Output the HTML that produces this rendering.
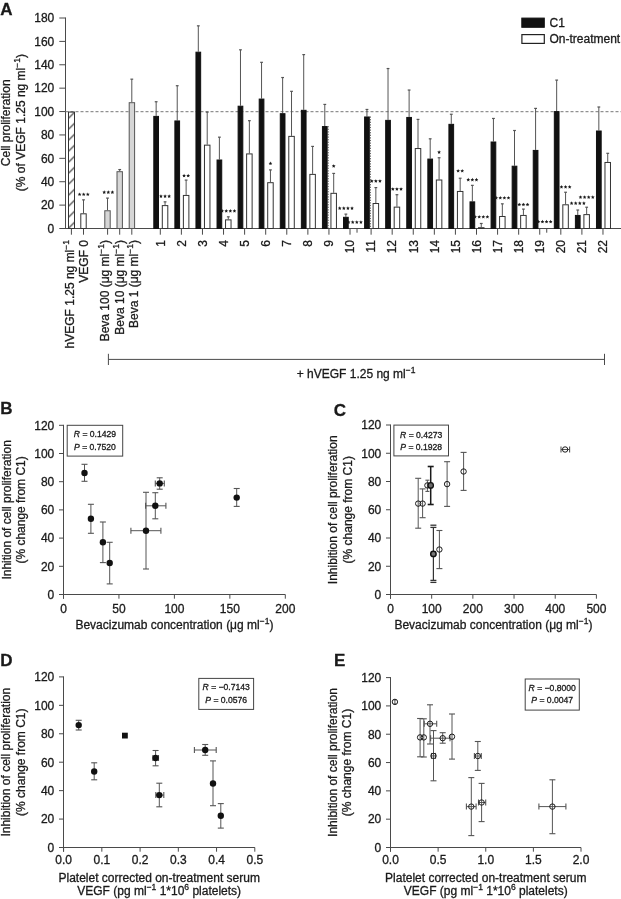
<!DOCTYPE html>
<html><head><meta charset="utf-8"><title>Figure</title>
<style>
html,body{margin:0;padding:0;background:#fff;}
body{width:621px;height:899px;overflow:hidden;}
svg{display:block;will-change:transform;}
text{font-family:"Liberation Sans",sans-serif;fill:#1a1a1a;stroke:#1a1a1a;stroke-width:0.3px;}
</style></head><body>
<svg width="621" height="899" viewBox="0 0 621 899">
<rect width="621" height="899" fill="#fff"/>
<g id="A">
<text x="0.3" y="14.7" font-size="17" text-anchor="start" font-weight="bold">A</text>
<line x1="65.5" y1="17.51" x2="65.5" y2="229" stroke="#4a4a4a" stroke-width="1"/>
<line x1="59.3" y1="228.5" x2="65.5" y2="228.5" stroke="#4a4a4a" stroke-width="1"/>
<text x="54.3" y="232.8" font-size="12" text-anchor="end">0</text>
<line x1="59.3" y1="205.11" x2="65.5" y2="205.11" stroke="#4a4a4a" stroke-width="1"/>
<text x="54.3" y="209.41" font-size="12" text-anchor="end">20</text>
<line x1="59.3" y1="181.72" x2="65.5" y2="181.72" stroke="#4a4a4a" stroke-width="1"/>
<text x="54.3" y="186.02" font-size="12" text-anchor="end">40</text>
<line x1="59.3" y1="158.34" x2="65.5" y2="158.34" stroke="#4a4a4a" stroke-width="1"/>
<text x="54.3" y="162.64" font-size="12" text-anchor="end">60</text>
<line x1="59.3" y1="134.95" x2="65.5" y2="134.95" stroke="#4a4a4a" stroke-width="1"/>
<text x="54.3" y="139.25" font-size="12" text-anchor="end">80</text>
<line x1="59.3" y1="111.56" x2="65.5" y2="111.56" stroke="#4a4a4a" stroke-width="1"/>
<text x="54.3" y="115.86" font-size="12" text-anchor="end">100</text>
<line x1="59.3" y1="88.17" x2="65.5" y2="88.17" stroke="#4a4a4a" stroke-width="1"/>
<text x="54.3" y="92.47" font-size="12" text-anchor="end">120</text>
<line x1="59.3" y1="64.78" x2="65.5" y2="64.78" stroke="#4a4a4a" stroke-width="1"/>
<text x="54.3" y="69.08" font-size="12" text-anchor="end">140</text>
<line x1="59.3" y1="41.4" x2="65.5" y2="41.4" stroke="#4a4a4a" stroke-width="1"/>
<text x="54.3" y="45.7" font-size="12" text-anchor="end">160</text>
<line x1="59.3" y1="18.01" x2="65.5" y2="18.01" stroke="#4a4a4a" stroke-width="1"/>
<text x="54.3" y="22.31" font-size="12" text-anchor="end">180</text>
<line x1="65.5" y1="228.5" x2="621" y2="228.5" stroke="#4a4a4a" stroke-width="1"/>
<line x1="65.5" y1="111.7" x2="621" y2="111.7" stroke="#777" stroke-width="1" stroke-dasharray="3 2"/>
<text x="10.4" y="122.8" font-size="12" text-anchor="middle" transform="rotate(-90 10.4 122.8)">Cell proliferation</text>
<text x="24.8" y="122.6" font-size="12" text-anchor="middle" transform="rotate(-90 24.8 122.6)">(% of VEGF 1.25 ng ml<tspan font-size="8.5" dy="-5">&#8722;1</tspan><tspan dy="5">)</tspan></text>
<defs><pattern id="hatch" patternUnits="userSpaceOnUse" width="7" height="11" x="68.3" y="107.5"><line x1="-1" y1="12" x2="8" y2="3" stroke="#222" stroke-width="1.1"/></pattern></defs>
<rect x="68.5" y="112.06" width="6" height="116.44" fill="url(#hatch)" stroke="#333" stroke-width="1"/>
<line x1="83.5" y1="199.85" x2="83.5" y2="213.3" stroke="#555" stroke-width="1"/>
<line x1="82.1" y1="199.85" x2="84.9" y2="199.85" stroke="#555" stroke-width="1.2"/>
<rect x="80.8" y="213.8" width="5.4" height="14.7" fill="#fff" stroke="#333" stroke-width="1"/>
<polygon points="79.6,192.45 80.16,193.63 81.45,193.8 80.5,194.69 80.75,195.98 79.6,195.35 78.45,195.98 78.7,194.69 77.75,193.8 79.04,193.63" fill="#1a1a1a"/>
<polygon points="83.7,192.45 84.26,193.63 85.55,193.8 84.6,194.69 84.85,195.98 83.7,195.35 82.55,195.98 82.8,194.69 81.85,193.8 83.14,193.63" fill="#1a1a1a"/>
<polygon points="87.8,192.45 88.36,193.63 89.65,193.8 88.7,194.69 88.95,195.98 87.8,195.35 86.65,195.98 86.9,194.69 85.95,193.8 87.24,193.63" fill="#1a1a1a"/>
<line x1="107.5" y1="198.1" x2="107.5" y2="210.26" stroke="#555" stroke-width="1"/>
<line x1="106.1" y1="198.1" x2="108.9" y2="198.1" stroke="#555" stroke-width="1.2"/>
<rect x="104.8" y="210.76" width="5.4" height="17.74" fill="#d6d6d6" stroke="#555" stroke-width="1"/>
<polygon points="104.2,190.35 104.76,191.53 106.05,191.7 105.1,192.59 105.35,193.88 104.2,193.25 103.05,193.88 103.3,192.59 102.35,191.7 103.64,191.53" fill="#1a1a1a"/>
<polygon points="108.3,190.35 108.86,191.53 110.15,191.7 109.2,192.59 109.45,193.88 108.3,193.25 107.15,193.88 107.4,192.59 106.45,191.7 107.74,191.53" fill="#1a1a1a"/>
<polygon points="112.4,190.35 112.96,191.53 114.25,191.7 113.3,192.59 113.55,193.88 112.4,193.25 111.25,193.88 111.5,192.59 110.55,191.7 111.84,191.53" fill="#1a1a1a"/>
<line x1="119.7" y1="169.56" x2="119.7" y2="171.2" stroke="#555" stroke-width="1"/>
<line x1="118.3" y1="169.56" x2="121.1" y2="169.56" stroke="#555" stroke-width="1.2"/>
<rect x="117" y="171.7" width="5.4" height="56.8" fill="#d6d6d6" stroke="#555" stroke-width="1"/>
<line x1="131.8" y1="79.17" x2="131.8" y2="102.2" stroke="#555" stroke-width="1"/>
<line x1="130.4" y1="79.17" x2="133.2" y2="79.17" stroke="#555" stroke-width="1.2"/>
<rect x="129.2" y="102.7" width="5.4" height="125.8" fill="#d6d6d6" stroke="#555" stroke-width="1"/>
<line x1="71.4" y1="228.5" x2="71.4" y2="234.7" stroke="#4a4a4a" stroke-width="1"/>
<line x1="83.5" y1="228.5" x2="83.5" y2="234.7" stroke="#4a4a4a" stroke-width="1"/>
<line x1="107.6" y1="228.5" x2="107.6" y2="234.7" stroke="#4a4a4a" stroke-width="1"/>
<line x1="119.7" y1="228.5" x2="119.7" y2="234.7" stroke="#4a4a4a" stroke-width="1"/>
<line x1="131.8" y1="228.5" x2="131.8" y2="234.7" stroke="#4a4a4a" stroke-width="1"/>
<line x1="156.15" y1="101.74" x2="156.15" y2="115.89" stroke="#555" stroke-width="1"/>
<line x1="154.75" y1="101.74" x2="157.55" y2="101.74" stroke="#555" stroke-width="1.2"/>
<rect x="153.8" y="116.39" width="4.7" height="112.11" fill="#111" stroke="#111" stroke-width="1"/>
<line x1="165.05" y1="201.84" x2="165.05" y2="205.11" stroke="#555" stroke-width="1"/>
<line x1="163.65" y1="201.84" x2="166.45" y2="201.84" stroke="#555" stroke-width="1.2"/>
<rect x="162.3" y="205.61" width="5.5" height="22.89" fill="#fff" stroke="#333" stroke-width="1"/>
<polygon points="160.95,194.35 161.51,195.53 162.8,195.7 161.85,196.59 162.1,197.88 160.95,197.25 159.8,197.88 160.05,196.59 159.1,195.7 160.39,195.53" fill="#1a1a1a"/>
<polygon points="165.05,194.35 165.61,195.53 166.9,195.7 165.95,196.59 166.2,197.88 165.05,197.25 163.9,197.88 164.15,196.59 163.2,195.7 164.49,195.53" fill="#1a1a1a"/>
<polygon points="169.15,194.35 169.71,195.53 171,195.7 170.05,196.59 170.3,197.88 169.15,197.25 168,197.88 168.25,196.59 167.3,195.7 168.59,195.53" fill="#1a1a1a"/>
<line x1="160.3" y1="228.5" x2="160.3" y2="234.7" stroke="#4a4a4a" stroke-width="1"/>
<text x="164.6" y="240" font-size="12" text-anchor="end" transform="rotate(-90 164.6 240)">1</text>
<line x1="177.23" y1="85.72" x2="177.23" y2="120.45" stroke="#555" stroke-width="1"/>
<line x1="175.83" y1="85.72" x2="178.63" y2="85.72" stroke="#555" stroke-width="1.2"/>
<rect x="174.88" y="120.95" width="4.7" height="107.55" fill="#111" stroke="#111" stroke-width="1"/>
<line x1="186.13" y1="180.09" x2="186.13" y2="194.94" stroke="#555" stroke-width="1"/>
<line x1="184.73" y1="180.09" x2="187.53" y2="180.09" stroke="#555" stroke-width="1.2"/>
<rect x="183.38" y="195.44" width="5.5" height="33.06" fill="#fff" stroke="#333" stroke-width="1"/>
<polygon points="184.08,173.75 184.64,174.93 185.93,175.1 184.98,175.99 185.23,177.28 184.08,176.65 182.93,177.28 183.18,175.99 182.23,175.1 183.52,174.93" fill="#1a1a1a"/>
<polygon points="188.18,173.75 188.74,174.93 190.03,175.1 189.08,175.99 189.33,177.28 188.18,176.65 187.03,177.28 187.28,175.99 186.33,175.1 187.62,174.93" fill="#1a1a1a"/>
<line x1="181.38" y1="228.5" x2="181.38" y2="234.7" stroke="#4a4a4a" stroke-width="1"/>
<text x="185.68" y="240" font-size="12" text-anchor="end" transform="rotate(-90 185.68 240)">2</text>
<line x1="198.31" y1="25.84" x2="198.31" y2="51.69" stroke="#555" stroke-width="1"/>
<line x1="196.91" y1="25.84" x2="199.71" y2="25.84" stroke="#555" stroke-width="1.2"/>
<rect x="195.96" y="52.19" width="4.7" height="176.31" fill="#111" stroke="#111" stroke-width="1"/>
<line x1="207.21" y1="112.14" x2="207.21" y2="144.65" stroke="#555" stroke-width="1"/>
<line x1="205.81" y1="112.14" x2="208.61" y2="112.14" stroke="#555" stroke-width="1.2"/>
<rect x="204.46" y="145.15" width="5.5" height="83.35" fill="#fff" stroke="#333" stroke-width="1"/>
<line x1="202.46" y1="228.5" x2="202.46" y2="234.7" stroke="#4a4a4a" stroke-width="1"/>
<text x="206.76" y="240" font-size="12" text-anchor="end" transform="rotate(-90 206.76 240)">3</text>
<line x1="219.39" y1="137.17" x2="219.39" y2="159.51" stroke="#555" stroke-width="1"/>
<line x1="217.99" y1="137.17" x2="220.79" y2="137.17" stroke="#555" stroke-width="1.2"/>
<rect x="217.04" y="160.01" width="4.7" height="68.49" fill="#111" stroke="#111" stroke-width="1"/>
<line x1="228.29" y1="216.81" x2="228.29" y2="219.38" stroke="#555" stroke-width="1"/>
<line x1="226.89" y1="216.81" x2="229.69" y2="216.81" stroke="#555" stroke-width="1.2"/>
<rect x="225.54" y="219.88" width="5.5" height="8.62" fill="#fff" stroke="#333" stroke-width="1"/>
<polygon points="222.14,209.05 222.7,210.23 223.99,210.4 223.04,211.29 223.29,212.58 222.14,211.95 220.99,212.58 221.24,211.29 220.29,210.4 221.58,210.23" fill="#1a1a1a"/>
<polygon points="226.24,209.05 226.8,210.23 228.09,210.4 227.14,211.29 227.39,212.58 226.24,211.95 225.09,212.58 225.34,211.29 224.39,210.4 225.68,210.23" fill="#1a1a1a"/>
<polygon points="230.34,209.05 230.9,210.23 232.19,210.4 231.24,211.29 231.49,212.58 230.34,211.95 229.19,212.58 229.44,211.29 228.49,210.4 229.78,210.23" fill="#1a1a1a"/>
<polygon points="234.44,209.05 235,210.23 236.29,210.4 235.34,211.29 235.59,212.58 234.44,211.95 233.29,212.58 233.54,211.29 232.59,210.4 233.88,210.23" fill="#1a1a1a"/>
<line x1="223.54" y1="228.5" x2="223.54" y2="234.7" stroke="#4a4a4a" stroke-width="1"/>
<text x="227.84" y="240" font-size="12" text-anchor="end" transform="rotate(-90 227.84 240)">4</text>
<line x1="240.47" y1="49.82" x2="240.47" y2="105.71" stroke="#555" stroke-width="1"/>
<line x1="239.07" y1="49.82" x2="241.87" y2="49.82" stroke="#555" stroke-width="1.2"/>
<rect x="238.12" y="106.21" width="4.7" height="122.29" fill="#111" stroke="#111" stroke-width="1"/>
<line x1="249.37" y1="120.68" x2="249.37" y2="153.42" stroke="#555" stroke-width="1"/>
<line x1="247.97" y1="120.68" x2="250.77" y2="120.68" stroke="#555" stroke-width="1.2"/>
<rect x="246.62" y="153.92" width="5.5" height="74.58" fill="#fff" stroke="#333" stroke-width="1"/>
<line x1="244.62" y1="228.5" x2="244.62" y2="234.7" stroke="#4a4a4a" stroke-width="1"/>
<text x="248.92" y="240" font-size="12" text-anchor="end" transform="rotate(-90 248.92 240)">5</text>
<line x1="261.55" y1="62.33" x2="261.55" y2="98.58" stroke="#555" stroke-width="1"/>
<line x1="260.15" y1="62.33" x2="262.95" y2="62.33" stroke="#555" stroke-width="1.2"/>
<rect x="259.2" y="99.08" width="4.7" height="129.42" fill="#111" stroke="#111" stroke-width="1"/>
<line x1="270.45" y1="169.91" x2="270.45" y2="182.19" stroke="#555" stroke-width="1"/>
<line x1="269.05" y1="169.91" x2="271.85" y2="169.91" stroke="#555" stroke-width="1.2"/>
<rect x="267.7" y="182.69" width="5.5" height="45.81" fill="#fff" stroke="#333" stroke-width="1"/>
<polygon points="270.45,161.55 271.01,162.73 272.3,162.9 271.35,163.79 271.6,165.08 270.45,164.45 269.3,165.08 269.55,163.79 268.6,162.9 269.89,162.73" fill="#1a1a1a"/>
<line x1="265.7" y1="228.5" x2="265.7" y2="234.7" stroke="#4a4a4a" stroke-width="1"/>
<text x="270" y="240" font-size="12" text-anchor="end" transform="rotate(-90 270 240)">6</text>
<line x1="282.63" y1="77.53" x2="282.63" y2="113.2" stroke="#555" stroke-width="1"/>
<line x1="281.23" y1="77.53" x2="284.03" y2="77.53" stroke="#555" stroke-width="1.2"/>
<rect x="280.28" y="113.7" width="4.7" height="114.8" fill="#111" stroke="#111" stroke-width="1"/>
<line x1="291.53" y1="91.33" x2="291.53" y2="135.88" stroke="#555" stroke-width="1"/>
<line x1="290.13" y1="91.33" x2="292.93" y2="91.33" stroke="#555" stroke-width="1.2"/>
<rect x="288.78" y="136.38" width="5.5" height="92.12" fill="#fff" stroke="#333" stroke-width="1"/>
<line x1="286.78" y1="228.5" x2="286.78" y2="234.7" stroke="#4a4a4a" stroke-width="1"/>
<text x="291.08" y="240" font-size="12" text-anchor="end" transform="rotate(-90 291.08 240)">7</text>
<line x1="303.71" y1="54.61" x2="303.71" y2="109.81" stroke="#555" stroke-width="1"/>
<line x1="302.31" y1="54.61" x2="305.11" y2="54.61" stroke="#555" stroke-width="1.2"/>
<rect x="301.36" y="110.31" width="4.7" height="118.19" fill="#111" stroke="#111" stroke-width="1"/>
<line x1="312.61" y1="146.41" x2="312.61" y2="173.89" stroke="#555" stroke-width="1"/>
<line x1="311.21" y1="146.41" x2="314.01" y2="146.41" stroke="#555" stroke-width="1.2"/>
<rect x="309.86" y="174.39" width="5.5" height="54.11" fill="#fff" stroke="#333" stroke-width="1"/>
<line x1="307.86" y1="228.5" x2="307.86" y2="234.7" stroke="#4a4a4a" stroke-width="1"/>
<text x="312.16" y="240" font-size="12" text-anchor="end" transform="rotate(-90 312.16 240)">8</text>
<line x1="324.79" y1="104.43" x2="324.79" y2="126.06" stroke="#555" stroke-width="1"/>
<line x1="323.39" y1="104.43" x2="326.19" y2="104.43" stroke="#555" stroke-width="1.2"/>
<rect x="322.44" y="126.56" width="4.7" height="101.94" fill="#111" stroke="#111" stroke-width="1"/>
<line x1="328.14" y1="126.06" x2="328.14" y2="228.5" stroke="#333" stroke-width="0.9" stroke-dasharray="1.3 1.3"/>
<line x1="333.69" y1="173.42" x2="333.69" y2="192.83" stroke="#555" stroke-width="1"/>
<line x1="332.29" y1="173.42" x2="335.09" y2="173.42" stroke="#555" stroke-width="1.2"/>
<rect x="330.94" y="193.33" width="5.5" height="35.17" fill="#fff" stroke="#333" stroke-width="1"/>
<polygon points="333.69,164.15 334.25,165.33 335.54,165.5 334.59,166.39 334.84,167.68 333.69,167.05 332.54,167.68 332.79,166.39 331.84,165.5 333.13,165.33" fill="#1a1a1a"/>
<line x1="328.94" y1="228.5" x2="328.94" y2="234.7" stroke="#4a4a4a" stroke-width="1"/>
<text x="333.24" y="240" font-size="12" text-anchor="end" transform="rotate(-90 333.24 240)">9</text>
<line x1="345.87" y1="214.12" x2="345.87" y2="216.81" stroke="#555" stroke-width="1"/>
<line x1="344.47" y1="214.12" x2="347.27" y2="214.12" stroke="#555" stroke-width="1.2"/>
<rect x="343.52" y="217.31" width="4.7" height="11.19" fill="#111" stroke="#111" stroke-width="1"/>
<line x1="357.02" y1="228.5" x2="357.02" y2="232.7" stroke="#4a4a4a" stroke-width="1"/>
<polygon points="348.62,220.25 349.18,221.43 350.47,221.6 349.52,222.49 349.77,223.78 348.62,223.15 347.47,223.78 347.72,222.49 346.77,221.6 348.06,221.43" fill="#1a1a1a"/>
<polygon points="352.72,220.25 353.28,221.43 354.57,221.6 353.62,222.49 353.87,223.78 352.72,223.15 351.57,223.78 351.82,222.49 350.87,221.6 352.16,221.43" fill="#1a1a1a"/>
<polygon points="356.82,220.25 357.38,221.43 358.67,221.6 357.72,222.49 357.97,223.78 356.82,223.15 355.67,223.78 355.92,222.49 354.97,221.6 356.26,221.43" fill="#1a1a1a"/>
<polygon points="360.92,220.25 361.48,221.43 362.77,221.6 361.82,222.49 362.07,223.78 360.92,223.15 359.77,223.78 360.02,222.49 359.07,221.6 360.36,221.43" fill="#1a1a1a"/>
<polygon points="339.72,206.35 340.28,207.53 341.57,207.7 340.62,208.59 340.87,209.88 339.72,209.25 338.57,209.88 338.82,208.59 337.87,207.7 339.16,207.53" fill="#1a1a1a"/>
<polygon points="343.82,206.35 344.38,207.53 345.67,207.7 344.72,208.59 344.97,209.88 343.82,209.25 342.67,209.88 342.92,208.59 341.97,207.7 343.26,207.53" fill="#1a1a1a"/>
<polygon points="347.92,206.35 348.48,207.53 349.77,207.7 348.82,208.59 349.07,209.88 347.92,209.25 346.77,209.88 347.02,208.59 346.07,207.7 347.36,207.53" fill="#1a1a1a"/>
<polygon points="352.02,206.35 352.58,207.53 353.87,207.7 352.92,208.59 353.17,209.88 352.02,209.25 350.87,209.88 351.12,208.59 350.17,207.7 351.46,207.53" fill="#1a1a1a"/>
<line x1="350.02" y1="228.5" x2="350.02" y2="234.7" stroke="#4a4a4a" stroke-width="1"/>
<text x="354.32" y="240" font-size="12" text-anchor="end" transform="rotate(-90 354.32 240)">10</text>
<line x1="366.95" y1="109.46" x2="366.95" y2="116.47" stroke="#555" stroke-width="1"/>
<line x1="365.55" y1="109.46" x2="368.35" y2="109.46" stroke="#555" stroke-width="1.2"/>
<rect x="364.6" y="116.97" width="4.7" height="111.53" fill="#111" stroke="#111" stroke-width="1"/>
<line x1="370.3" y1="116.47" x2="370.3" y2="228.5" stroke="#333" stroke-width="0.9" stroke-dasharray="1.3 1.3"/>
<line x1="375.85" y1="187.57" x2="375.85" y2="203.01" stroke="#555" stroke-width="1"/>
<line x1="374.45" y1="187.57" x2="377.25" y2="187.57" stroke="#555" stroke-width="1.2"/>
<rect x="373.1" y="203.51" width="5.5" height="24.99" fill="#fff" stroke="#333" stroke-width="1"/>
<polygon points="371.75,179.15 372.31,180.33 373.6,180.5 372.65,181.39 372.9,182.68 371.75,182.05 370.6,182.68 370.85,181.39 369.9,180.5 371.19,180.33" fill="#1a1a1a"/>
<polygon points="375.85,179.15 376.41,180.33 377.7,180.5 376.75,181.39 377,182.68 375.85,182.05 374.7,182.68 374.95,181.39 374,180.5 375.29,180.33" fill="#1a1a1a"/>
<polygon points="379.95,179.15 380.51,180.33 381.8,180.5 380.85,181.39 381.1,182.68 379.95,182.05 378.8,182.68 379.05,181.39 378.1,180.5 379.39,180.33" fill="#1a1a1a"/>
<line x1="371.1" y1="228.5" x2="371.1" y2="234.7" stroke="#4a4a4a" stroke-width="1"/>
<text x="375.4" y="240" font-size="12" text-anchor="end" transform="rotate(-90 375.4 240)">11</text>
<line x1="388.03" y1="68.53" x2="388.03" y2="119.86" stroke="#555" stroke-width="1"/>
<line x1="386.63" y1="68.53" x2="389.43" y2="68.53" stroke="#555" stroke-width="1.2"/>
<rect x="385.68" y="120.36" width="4.7" height="108.14" fill="#111" stroke="#111" stroke-width="1"/>
<line x1="396.93" y1="194.7" x2="396.93" y2="206.63" stroke="#555" stroke-width="1"/>
<line x1="395.53" y1="194.7" x2="398.33" y2="194.7" stroke="#555" stroke-width="1.2"/>
<rect x="394.18" y="207.13" width="5.5" height="21.37" fill="#fff" stroke="#333" stroke-width="1"/>
<polygon points="392.83,187.15 393.39,188.33 394.68,188.5 393.73,189.39 393.98,190.68 392.83,190.05 391.68,190.68 391.93,189.39 390.98,188.5 392.27,188.33" fill="#1a1a1a"/>
<polygon points="396.93,187.15 397.49,188.33 398.78,188.5 397.83,189.39 398.08,190.68 396.93,190.05 395.78,190.68 396.03,189.39 395.08,188.5 396.37,188.33" fill="#1a1a1a"/>
<polygon points="401.03,187.15 401.59,188.33 402.88,188.5 401.93,189.39 402.18,190.68 401.03,190.05 399.88,190.68 400.13,189.39 399.18,188.5 400.47,188.33" fill="#1a1a1a"/>
<line x1="392.18" y1="228.5" x2="392.18" y2="234.7" stroke="#4a4a4a" stroke-width="1"/>
<text x="396.48" y="240" font-size="12" text-anchor="end" transform="rotate(-90 396.48 240)">12</text>
<line x1="409.11" y1="90.04" x2="409.11" y2="116.94" stroke="#555" stroke-width="1"/>
<line x1="407.71" y1="90.04" x2="410.51" y2="90.04" stroke="#555" stroke-width="1.2"/>
<rect x="406.76" y="117.44" width="4.7" height="111.06" fill="#111" stroke="#111" stroke-width="1"/>
<line x1="418.01" y1="119.39" x2="418.01" y2="148.05" stroke="#555" stroke-width="1"/>
<line x1="416.61" y1="119.39" x2="419.41" y2="119.39" stroke="#555" stroke-width="1.2"/>
<rect x="415.26" y="148.55" width="5.5" height="79.95" fill="#fff" stroke="#333" stroke-width="1"/>
<line x1="413.26" y1="228.5" x2="413.26" y2="234.7" stroke="#4a4a4a" stroke-width="1"/>
<text x="417.56" y="240" font-size="12" text-anchor="end" transform="rotate(-90 417.56 240)">13</text>
<line x1="430.19" y1="138.81" x2="430.19" y2="158.57" stroke="#555" stroke-width="1"/>
<line x1="428.79" y1="138.81" x2="431.59" y2="138.81" stroke="#555" stroke-width="1.2"/>
<rect x="427.84" y="159.07" width="4.7" height="69.43" fill="#111" stroke="#111" stroke-width="1"/>
<line x1="439.09" y1="157.75" x2="439.09" y2="179.5" stroke="#555" stroke-width="1"/>
<line x1="437.69" y1="157.75" x2="440.49" y2="157.75" stroke="#555" stroke-width="1.2"/>
<rect x="436.34" y="180" width="5.5" height="48.5" fill="#fff" stroke="#333" stroke-width="1"/>
<polygon points="439.09,150.25 439.65,151.43 440.94,151.6 439.99,152.49 440.24,153.78 439.09,153.15 437.94,153.78 438.19,152.49 437.24,151.6 438.53,151.43" fill="#1a1a1a"/>
<line x1="434.34" y1="228.5" x2="434.34" y2="234.7" stroke="#4a4a4a" stroke-width="1"/>
<text x="438.64" y="240" font-size="12" text-anchor="end" transform="rotate(-90 438.64 240)">14</text>
<line x1="451.27" y1="114.25" x2="451.27" y2="123.84" stroke="#555" stroke-width="1"/>
<line x1="449.87" y1="114.25" x2="452.67" y2="114.25" stroke="#555" stroke-width="1.2"/>
<rect x="448.92" y="124.34" width="4.7" height="104.16" fill="#111" stroke="#111" stroke-width="1"/>
<line x1="460.17" y1="178.22" x2="460.17" y2="190.96" stroke="#555" stroke-width="1"/>
<line x1="458.77" y1="178.22" x2="461.57" y2="178.22" stroke="#555" stroke-width="1.2"/>
<rect x="457.42" y="191.46" width="5.5" height="37.04" fill="#fff" stroke="#333" stroke-width="1"/>
<polygon points="458.12,168.95 458.68,170.13 459.97,170.3 459.02,171.19 459.27,172.48 458.12,171.85 456.97,172.48 457.22,171.19 456.27,170.3 457.56,170.13" fill="#1a1a1a"/>
<polygon points="462.22,168.95 462.78,170.13 464.07,170.3 463.12,171.19 463.37,172.48 462.22,171.85 461.07,172.48 461.32,171.19 460.37,170.3 461.66,170.13" fill="#1a1a1a"/>
<line x1="455.42" y1="228.5" x2="455.42" y2="234.7" stroke="#4a4a4a" stroke-width="1"/>
<text x="459.72" y="240" font-size="12" text-anchor="end" transform="rotate(-90 459.72 240)">15</text>
<line x1="472.35" y1="185.35" x2="472.35" y2="201.37" stroke="#555" stroke-width="1"/>
<line x1="470.95" y1="185.35" x2="473.75" y2="185.35" stroke="#555" stroke-width="1.2"/>
<rect x="470" y="201.87" width="4.7" height="26.63" fill="#111" stroke="#111" stroke-width="1"/>
<line x1="481.25" y1="223.47" x2="481.25" y2="227.21" stroke="#555" stroke-width="1"/>
<line x1="479.85" y1="223.47" x2="482.65" y2="223.47" stroke="#555" stroke-width="1.2"/>
<rect x="478.5" y="227.71" width="5.5" height="0.79" fill="#fff" stroke="#333" stroke-width="1"/>
<polygon points="475.1,214.95 475.66,216.13 476.95,216.3 476,217.19 476.25,218.48 475.1,217.85 473.95,218.48 474.2,217.19 473.25,216.3 474.54,216.13" fill="#1a1a1a"/>
<polygon points="479.2,214.95 479.76,216.13 481.05,216.3 480.1,217.19 480.35,218.48 479.2,217.85 478.05,218.48 478.3,217.19 477.35,216.3 478.64,216.13" fill="#1a1a1a"/>
<polygon points="483.3,214.95 483.86,216.13 485.15,216.3 484.2,217.19 484.45,218.48 483.3,217.85 482.15,218.48 482.4,217.19 481.45,216.3 482.74,216.13" fill="#1a1a1a"/>
<polygon points="487.4,214.95 487.96,216.13 489.25,216.3 488.3,217.19 488.55,218.48 487.4,217.85 486.25,218.48 486.5,217.19 485.55,216.3 486.84,216.13" fill="#1a1a1a"/>
<polygon points="468.25,177.85 468.81,179.03 470.1,179.2 469.15,180.09 469.4,181.38 468.25,180.75 467.1,181.38 467.35,180.09 466.4,179.2 467.69,179.03" fill="#1a1a1a"/>
<polygon points="472.35,177.85 472.91,179.03 474.2,179.2 473.25,180.09 473.5,181.38 472.35,180.75 471.2,181.38 471.45,180.09 470.5,179.2 471.79,179.03" fill="#1a1a1a"/>
<polygon points="476.45,177.85 477.01,179.03 478.3,179.2 477.35,180.09 477.6,181.38 476.45,180.75 475.3,181.38 475.55,180.09 474.6,179.2 475.89,179.03" fill="#1a1a1a"/>
<line x1="476.5" y1="228.5" x2="476.5" y2="234.7" stroke="#4a4a4a" stroke-width="1"/>
<text x="480.8" y="240" font-size="12" text-anchor="end" transform="rotate(-90 480.8 240)">16</text>
<line x1="493.43" y1="118.46" x2="493.43" y2="141.5" stroke="#555" stroke-width="1"/>
<line x1="492.03" y1="118.46" x2="494.83" y2="118.46" stroke="#555" stroke-width="1.2"/>
<rect x="491.08" y="142" width="4.7" height="86.5" fill="#111" stroke="#111" stroke-width="1"/>
<line x1="502.33" y1="203.83" x2="502.33" y2="215.99" stroke="#555" stroke-width="1"/>
<line x1="500.93" y1="203.83" x2="503.73" y2="203.83" stroke="#555" stroke-width="1.2"/>
<rect x="499.58" y="216.49" width="5.5" height="12.01" fill="#fff" stroke="#333" stroke-width="1"/>
<polygon points="496.18,195.95 496.74,197.13 498.03,197.3 497.08,198.19 497.33,199.48 496.18,198.85 495.03,199.48 495.28,198.19 494.33,197.3 495.62,197.13" fill="#1a1a1a"/>
<polygon points="500.28,195.95 500.84,197.13 502.13,197.3 501.18,198.19 501.43,199.48 500.28,198.85 499.13,199.48 499.38,198.19 498.43,197.3 499.72,197.13" fill="#1a1a1a"/>
<polygon points="504.38,195.95 504.94,197.13 506.23,197.3 505.28,198.19 505.53,199.48 504.38,198.85 503.23,199.48 503.48,198.19 502.53,197.3 503.82,197.13" fill="#1a1a1a"/>
<polygon points="508.48,195.95 509.04,197.13 510.33,197.3 509.38,198.19 509.63,199.48 508.48,198.85 507.33,199.48 507.58,198.19 506.63,197.3 507.92,197.13" fill="#1a1a1a"/>
<line x1="497.58" y1="228.5" x2="497.58" y2="234.7" stroke="#4a4a4a" stroke-width="1"/>
<text x="501.88" y="240" font-size="12" text-anchor="end" transform="rotate(-90 501.88 240)">17</text>
<line x1="514.51" y1="130.5" x2="514.51" y2="165.7" stroke="#555" stroke-width="1"/>
<line x1="513.11" y1="130.5" x2="515.91" y2="130.5" stroke="#555" stroke-width="1.2"/>
<rect x="512.16" y="166.2" width="4.7" height="62.3" fill="#111" stroke="#111" stroke-width="1"/>
<line x1="523.41" y1="209.09" x2="523.41" y2="214.93" stroke="#555" stroke-width="1"/>
<line x1="522.01" y1="209.09" x2="524.81" y2="209.09" stroke="#555" stroke-width="1.2"/>
<rect x="520.66" y="215.43" width="5.5" height="13.07" fill="#fff" stroke="#333" stroke-width="1"/>
<polygon points="519.31,202.65 519.87,203.83 521.16,204 520.21,204.89 520.46,206.18 519.31,205.55 518.16,206.18 518.41,204.89 517.46,204 518.75,203.83" fill="#1a1a1a"/>
<polygon points="523.41,202.65 523.97,203.83 525.26,204 524.31,204.89 524.56,206.18 523.41,205.55 522.26,206.18 522.51,204.89 521.56,204 522.85,203.83" fill="#1a1a1a"/>
<polygon points="527.51,202.65 528.07,203.83 529.36,204 528.41,204.89 528.66,206.18 527.51,205.55 526.36,206.18 526.61,204.89 525.66,204 526.95,203.83" fill="#1a1a1a"/>
<line x1="518.66" y1="228.5" x2="518.66" y2="234.7" stroke="#4a4a4a" stroke-width="1"/>
<text x="522.96" y="240" font-size="12" text-anchor="end" transform="rotate(-90 522.96 240)">18</text>
<line x1="535.59" y1="108.4" x2="535.59" y2="149.92" stroke="#555" stroke-width="1"/>
<line x1="534.19" y1="108.4" x2="536.99" y2="108.4" stroke="#555" stroke-width="1.2"/>
<rect x="533.24" y="150.42" width="4.7" height="78.08" fill="#111" stroke="#111" stroke-width="1"/>
<line x1="546.74" y1="228.5" x2="546.74" y2="232.7" stroke="#4a4a4a" stroke-width="1"/>
<polygon points="538.34,219.75 538.9,220.93 540.19,221.1 539.24,221.99 539.49,223.28 538.34,222.65 537.19,223.28 537.44,221.99 536.49,221.1 537.78,220.93" fill="#1a1a1a"/>
<polygon points="542.44,219.75 543,220.93 544.29,221.1 543.34,221.99 543.59,223.28 542.44,222.65 541.29,223.28 541.54,221.99 540.59,221.1 541.88,220.93" fill="#1a1a1a"/>
<polygon points="546.54,219.75 547.1,220.93 548.39,221.1 547.44,221.99 547.69,223.28 546.54,222.65 545.39,223.28 545.64,221.99 544.69,221.1 545.98,220.93" fill="#1a1a1a"/>
<polygon points="550.64,219.75 551.2,220.93 552.49,221.1 551.54,221.99 551.79,223.28 550.64,222.65 549.49,223.28 549.74,221.99 548.79,221.1 550.08,220.93" fill="#1a1a1a"/>
<line x1="539.74" y1="228.5" x2="539.74" y2="234.7" stroke="#4a4a4a" stroke-width="1"/>
<text x="544.04" y="240" font-size="12" text-anchor="end" transform="rotate(-90 544.04 240)">19</text>
<line x1="556.67" y1="80.1" x2="556.67" y2="111.09" stroke="#555" stroke-width="1"/>
<line x1="555.27" y1="80.1" x2="558.07" y2="80.1" stroke="#555" stroke-width="1.2"/>
<rect x="554.32" y="111.59" width="4.7" height="116.91" fill="#111" stroke="#111" stroke-width="1"/>
<line x1="565.57" y1="192.25" x2="565.57" y2="204.29" stroke="#555" stroke-width="1"/>
<line x1="564.17" y1="192.25" x2="566.97" y2="192.25" stroke="#555" stroke-width="1.2"/>
<rect x="562.82" y="204.79" width="5.5" height="23.71" fill="#fff" stroke="#333" stroke-width="1"/>
<polygon points="561.47,185.05 562.03,186.23 563.32,186.4 562.37,187.29 562.62,188.58 561.47,187.95 560.32,188.58 560.57,187.29 559.62,186.4 560.91,186.23" fill="#1a1a1a"/>
<polygon points="565.57,185.05 566.13,186.23 567.42,186.4 566.47,187.29 566.72,188.58 565.57,187.95 564.42,188.58 564.67,187.29 563.72,186.4 565.01,186.23" fill="#1a1a1a"/>
<polygon points="569.67,185.05 570.23,186.23 571.52,186.4 570.57,187.29 570.82,188.58 569.67,187.95 568.52,188.58 568.77,187.29 567.82,186.4 569.11,186.23" fill="#1a1a1a"/>
<line x1="560.82" y1="228.5" x2="560.82" y2="234.7" stroke="#4a4a4a" stroke-width="1"/>
<text x="565.12" y="240" font-size="12" text-anchor="end" transform="rotate(-90 565.12 240)">20</text>
<line x1="577.75" y1="210.02" x2="577.75" y2="214.93" stroke="#555" stroke-width="1"/>
<line x1="576.35" y1="210.02" x2="579.15" y2="210.02" stroke="#555" stroke-width="1.2"/>
<rect x="575.4" y="215.43" width="4.7" height="13.07" fill="#111" stroke="#111" stroke-width="1"/>
<line x1="586.65" y1="207.22" x2="586.65" y2="214.12" stroke="#555" stroke-width="1"/>
<line x1="585.25" y1="207.22" x2="588.05" y2="207.22" stroke="#555" stroke-width="1.2"/>
<rect x="583.9" y="214.62" width="5.5" height="13.88" fill="#fff" stroke="#333" stroke-width="1"/>
<polygon points="580.5,195.25 581.06,196.43 582.35,196.6 581.4,197.49 581.65,198.78 580.5,198.15 579.35,198.78 579.6,197.49 578.65,196.6 579.94,196.43" fill="#1a1a1a"/>
<polygon points="584.6,195.25 585.16,196.43 586.45,196.6 585.5,197.49 585.75,198.78 584.6,198.15 583.45,198.78 583.7,197.49 582.75,196.6 584.04,196.43" fill="#1a1a1a"/>
<polygon points="588.7,195.25 589.26,196.43 590.55,196.6 589.6,197.49 589.85,198.78 588.7,198.15 587.55,198.78 587.8,197.49 586.85,196.6 588.14,196.43" fill="#1a1a1a"/>
<polygon points="592.8,195.25 593.36,196.43 594.65,196.6 593.7,197.49 593.95,198.78 592.8,198.15 591.65,198.78 591.9,197.49 590.95,196.6 592.24,196.43" fill="#1a1a1a"/>
<polygon points="571.6,201.35 572.16,202.53 573.45,202.7 572.5,203.59 572.75,204.88 571.6,204.25 570.45,204.88 570.7,203.59 569.75,202.7 571.04,202.53" fill="#1a1a1a"/>
<polygon points="575.7,201.35 576.26,202.53 577.55,202.7 576.6,203.59 576.85,204.88 575.7,204.25 574.55,204.88 574.8,203.59 573.85,202.7 575.14,202.53" fill="#1a1a1a"/>
<polygon points="579.8,201.35 580.36,202.53 581.65,202.7 580.7,203.59 580.95,204.88 579.8,204.25 578.65,204.88 578.9,203.59 577.95,202.7 579.24,202.53" fill="#1a1a1a"/>
<polygon points="583.9,201.35 584.46,202.53 585.75,202.7 584.8,203.59 585.05,204.88 583.9,204.25 582.75,204.88 583,203.59 582.05,202.7 583.34,202.53" fill="#1a1a1a"/>
<line x1="581.9" y1="228.5" x2="581.9" y2="234.7" stroke="#4a4a4a" stroke-width="1"/>
<text x="586.2" y="240" font-size="12" text-anchor="end" transform="rotate(-90 586.2 240)">21</text>
<line x1="598.83" y1="107" x2="598.83" y2="130.5" stroke="#555" stroke-width="1"/>
<line x1="597.43" y1="107" x2="600.23" y2="107" stroke="#555" stroke-width="1.2"/>
<rect x="596.48" y="131" width="4.7" height="97.5" fill="#111" stroke="#111" stroke-width="1"/>
<line x1="607.73" y1="153.31" x2="607.73" y2="161.96" stroke="#555" stroke-width="1"/>
<line x1="606.33" y1="153.31" x2="609.13" y2="153.31" stroke="#555" stroke-width="1.2"/>
<rect x="604.98" y="162.46" width="5.5" height="66.04" fill="#fff" stroke="#333" stroke-width="1"/>
<line x1="602.98" y1="228.5" x2="602.98" y2="234.7" stroke="#4a4a4a" stroke-width="1"/>
<text x="607.28" y="240" font-size="12" text-anchor="end" transform="rotate(-90 607.28 240)">22</text>
<text x="74" y="240" font-size="12" text-anchor="end" transform="rotate(-90 74 240)">hVEGF 1.25 ng ml<tspan font-size="8.5" dy="-5">&#8722;1</tspan></text>
<text x="87.8" y="240" font-size="12" text-anchor="end" transform="rotate(-90 87.8 240)">VEGF 0</text>
<text x="109.2" y="240" font-size="12" text-anchor="end" transform="rotate(-90 109.2 240)">Beva 100 (&#956;g ml<tspan font-size="8.5" dy="-5">&#8722;1</tspan><tspan dy="5">)</tspan></text>
<text x="123.7" y="240" font-size="12" text-anchor="end" transform="rotate(-90 123.7 240)">Beva 10 (&#956;g ml<tspan font-size="8.5" dy="-5">&#8722;1</tspan><tspan dy="5">)</tspan></text>
<text x="138.4" y="240" font-size="12" text-anchor="end" transform="rotate(-90 138.4 240)">Beva 1 (&#956;g ml<tspan font-size="8.5" dy="-5">&#8722;1</tspan><tspan dy="5">)</tspan></text>
<rect x="521.8" y="18.1" width="22.5" height="9.2" fill="#111" stroke="#111" stroke-width="1"/>
<rect x="521.9" y="34.6" width="22.4" height="8.8" fill="#fff" stroke="#222" stroke-width="1.2"/>
<text x="549.5" y="26.8" font-size="12" text-anchor="start">C1</text>
<text x="549.5" y="42.9" font-size="12" text-anchor="start">On-treatment</text>
<line x1="108.4" y1="359.4" x2="604.5" y2="359.4" stroke="#4a4a4a" stroke-width="1"/>
<line x1="108.4" y1="353.8" x2="108.4" y2="365" stroke="#4a4a4a" stroke-width="1"/>
<line x1="604.5" y1="353.8" x2="604.5" y2="365" stroke="#4a4a4a" stroke-width="1"/>
<text x="356.1" y="377.7" font-size="12" text-anchor="middle">+ hVEGF 1.25 ng ml<tspan font-size="8.5" dy="-5">&#8722;1</tspan></text>
</g>
<g>
<text x="0.3" y="414" font-size="17" text-anchor="start" font-weight="bold">B</text>
<line x1="63.5" y1="424.8" x2="63.5" y2="598.7" stroke="#4a4a4a" stroke-width="1"/>
<line x1="59" y1="594.5" x2="285.3" y2="594.5" stroke="#4a4a4a" stroke-width="1"/>
<line x1="59" y1="594.5" x2="63.5" y2="594.5" stroke="#4a4a4a" stroke-width="1"/>
<text x="54.3" y="598.8" font-size="12" text-anchor="end">0</text>
<line x1="59" y1="566.3" x2="63.5" y2="566.3" stroke="#4a4a4a" stroke-width="1"/>
<text x="54.3" y="570.6" font-size="12" text-anchor="end">20</text>
<line x1="59" y1="538.1" x2="63.5" y2="538.1" stroke="#4a4a4a" stroke-width="1"/>
<text x="54.3" y="542.4" font-size="12" text-anchor="end">40</text>
<line x1="59" y1="509.9" x2="63.5" y2="509.9" stroke="#4a4a4a" stroke-width="1"/>
<text x="54.3" y="514.2" font-size="12" text-anchor="end">60</text>
<line x1="59" y1="481.7" x2="63.5" y2="481.7" stroke="#4a4a4a" stroke-width="1"/>
<text x="54.3" y="486" font-size="12" text-anchor="end">80</text>
<line x1="59" y1="453.5" x2="63.5" y2="453.5" stroke="#4a4a4a" stroke-width="1"/>
<text x="54.3" y="457.8" font-size="12" text-anchor="end">100</text>
<line x1="59" y1="425.3" x2="63.5" y2="425.3" stroke="#4a4a4a" stroke-width="1"/>
<text x="54.3" y="429.6" font-size="12" text-anchor="end">120</text>
<line x1="63.5" y1="594.5" x2="63.5" y2="598.7" stroke="#4a4a4a" stroke-width="1"/>
<text x="63.5" y="612.8" font-size="12" text-anchor="middle">0</text>
<line x1="118.95" y1="594.5" x2="118.95" y2="598.7" stroke="#4a4a4a" stroke-width="1"/>
<text x="118.95" y="612.8" font-size="12" text-anchor="middle">50</text>
<line x1="174.4" y1="594.5" x2="174.4" y2="598.7" stroke="#4a4a4a" stroke-width="1"/>
<text x="174.4" y="612.8" font-size="12" text-anchor="middle">100</text>
<line x1="229.85" y1="594.5" x2="229.85" y2="598.7" stroke="#4a4a4a" stroke-width="1"/>
<text x="229.85" y="612.8" font-size="12" text-anchor="middle">150</text>
<line x1="285.3" y1="594.5" x2="285.3" y2="598.7" stroke="#4a4a4a" stroke-width="1"/>
<text x="285.3" y="612.8" font-size="12" text-anchor="middle">200</text>
<text x="10.6" y="509.9" font-size="12" text-anchor="middle" transform="rotate(-90 10.6 509.9)">Inhition of cell proliferation</text>
<text x="25" y="509.9" font-size="12" text-anchor="middle" transform="rotate(-90 25 509.9)">(% change from C1)</text>
<text x="174.4" y="629.3" font-size="12" text-anchor="middle">Bevacizumab concentration (&#956;g ml<tspan font-size="8.5" dy="-5">&#8722;1</tspan><tspan dy="5">)</tspan></text>
<rect x="67.2" y="425.3" width="55.5" height="30.8" fill="#fff" stroke="#444" stroke-width="1"/>
<text x="94.95" y="437.3" font-size="8.6" text-anchor="middle"><tspan font-style="italic">R</tspan> = 0.1429</text>
<text x="94.95" y="449.5" font-size="8.6" text-anchor="middle"><tspan font-style="italic">P</tspan> = 0.7520</text>
<line x1="84.5" y1="464.3" x2="84.5" y2="481.3" stroke="#555" stroke-width="1"/>
<line x1="81.5" y1="464.3" x2="87.5" y2="464.3" stroke="#555" stroke-width="1.1"/>
<line x1="81.5" y1="481.3" x2="87.5" y2="481.3" stroke="#555" stroke-width="1.1"/>
<circle cx="84.5" cy="473" r="3.2" fill="#111"/>
<line x1="90.9" y1="504.3" x2="90.9" y2="533.3" stroke="#555" stroke-width="1"/>
<line x1="87.9" y1="504.3" x2="93.9" y2="504.3" stroke="#555" stroke-width="1.1"/>
<line x1="87.9" y1="533.3" x2="93.9" y2="533.3" stroke="#555" stroke-width="1.1"/>
<circle cx="90.9" cy="518.8" r="3.2" fill="#111"/>
<line x1="102.9" y1="522" x2="102.9" y2="562.6" stroke="#555" stroke-width="1"/>
<line x1="99.9" y1="522" x2="105.9" y2="522" stroke="#555" stroke-width="1.1"/>
<line x1="99.9" y1="562.6" x2="105.9" y2="562.6" stroke="#555" stroke-width="1.1"/>
<circle cx="102.9" cy="542.3" r="3.2" fill="#111"/>
<line x1="109.7" y1="542.3" x2="109.7" y2="583.9" stroke="#555" stroke-width="1"/>
<line x1="106.7" y1="542.3" x2="112.7" y2="542.3" stroke="#555" stroke-width="1.1"/>
<line x1="106.7" y1="583.9" x2="112.7" y2="583.9" stroke="#555" stroke-width="1.1"/>
<circle cx="109.7" cy="563" r="3.2" fill="#111"/>
<line x1="146" y1="492.3" x2="146" y2="569" stroke="#555" stroke-width="1"/>
<line x1="143" y1="492.3" x2="149" y2="492.3" stroke="#555" stroke-width="1.1"/>
<line x1="143" y1="569" x2="149" y2="569" stroke="#555" stroke-width="1.1"/>
<line x1="130.9" y1="530.7" x2="160.9" y2="530.7" stroke="#555" stroke-width="1"/>
<line x1="130.9" y1="527.7" x2="130.9" y2="533.7" stroke="#555" stroke-width="1.1"/>
<line x1="160.9" y1="527.7" x2="160.9" y2="533.7" stroke="#555" stroke-width="1.1"/>
<circle cx="146" cy="530.7" r="3.2" fill="#111"/>
<line x1="155.3" y1="492.7" x2="155.3" y2="518.8" stroke="#555" stroke-width="1"/>
<line x1="152.3" y1="492.7" x2="158.3" y2="492.7" stroke="#555" stroke-width="1.1"/>
<line x1="152.3" y1="518.8" x2="158.3" y2="518.8" stroke="#555" stroke-width="1.1"/>
<line x1="145.6" y1="505.8" x2="165.9" y2="505.8" stroke="#555" stroke-width="1"/>
<line x1="145.6" y1="502.8" x2="145.6" y2="508.8" stroke="#555" stroke-width="1.1"/>
<line x1="165.9" y1="502.8" x2="165.9" y2="508.8" stroke="#555" stroke-width="1.1"/>
<circle cx="155.3" cy="505.8" r="3.2" fill="#111"/>
<line x1="159.7" y1="477.8" x2="159.7" y2="489.2" stroke="#555" stroke-width="1"/>
<line x1="156.7" y1="477.8" x2="162.7" y2="477.8" stroke="#555" stroke-width="1.1"/>
<line x1="156.7" y1="489.2" x2="162.7" y2="489.2" stroke="#555" stroke-width="1.1"/>
<line x1="155.3" y1="483.4" x2="164.3" y2="483.4" stroke="#555" stroke-width="1"/>
<line x1="155.3" y1="480.4" x2="155.3" y2="486.4" stroke="#555" stroke-width="1.1"/>
<line x1="164.3" y1="480.4" x2="164.3" y2="486.4" stroke="#555" stroke-width="1.1"/>
<circle cx="159.7" cy="483.4" r="3.2" fill="#111"/>
<line x1="236.7" y1="488.5" x2="236.7" y2="506.4" stroke="#555" stroke-width="1"/>
<line x1="233.7" y1="488.5" x2="239.7" y2="488.5" stroke="#555" stroke-width="1.1"/>
<line x1="233.7" y1="506.4" x2="239.7" y2="506.4" stroke="#555" stroke-width="1.1"/>
<circle cx="236.7" cy="497.6" r="3.2" fill="#111"/>
</g>
<g>
<text x="333.8" y="416.4" font-size="17" text-anchor="start" font-weight="bold">C</text>
<line x1="390.5" y1="424.5" x2="390.5" y2="598.7" stroke="#4a4a4a" stroke-width="1"/>
<line x1="386" y1="594.5" x2="596.4" y2="594.5" stroke="#4a4a4a" stroke-width="1"/>
<line x1="386" y1="594.5" x2="390.5" y2="594.5" stroke="#4a4a4a" stroke-width="1"/>
<text x="381.3" y="598.8" font-size="12" text-anchor="end">0</text>
<line x1="386" y1="566.25" x2="390.5" y2="566.25" stroke="#4a4a4a" stroke-width="1"/>
<text x="381.3" y="570.55" font-size="12" text-anchor="end">20</text>
<line x1="386" y1="538" x2="390.5" y2="538" stroke="#4a4a4a" stroke-width="1"/>
<text x="381.3" y="542.3" font-size="12" text-anchor="end">40</text>
<line x1="386" y1="509.75" x2="390.5" y2="509.75" stroke="#4a4a4a" stroke-width="1"/>
<text x="381.3" y="514.05" font-size="12" text-anchor="end">60</text>
<line x1="386" y1="481.5" x2="390.5" y2="481.5" stroke="#4a4a4a" stroke-width="1"/>
<text x="381.3" y="485.8" font-size="12" text-anchor="end">80</text>
<line x1="386" y1="453.25" x2="390.5" y2="453.25" stroke="#4a4a4a" stroke-width="1"/>
<text x="381.3" y="457.55" font-size="12" text-anchor="end">100</text>
<line x1="386" y1="425" x2="390.5" y2="425" stroke="#4a4a4a" stroke-width="1"/>
<text x="381.3" y="429.3" font-size="12" text-anchor="end">120</text>
<line x1="390.5" y1="594.5" x2="390.5" y2="598.7" stroke="#4a4a4a" stroke-width="1"/>
<text x="390.5" y="612.8" font-size="12" text-anchor="middle">0</text>
<line x1="431.68" y1="594.5" x2="431.68" y2="598.7" stroke="#4a4a4a" stroke-width="1"/>
<text x="431.68" y="612.8" font-size="12" text-anchor="middle">100</text>
<line x1="472.86" y1="594.5" x2="472.86" y2="598.7" stroke="#4a4a4a" stroke-width="1"/>
<text x="472.86" y="612.8" font-size="12" text-anchor="middle">200</text>
<line x1="514.04" y1="594.5" x2="514.04" y2="598.7" stroke="#4a4a4a" stroke-width="1"/>
<text x="514.04" y="612.8" font-size="12" text-anchor="middle">300</text>
<line x1="555.22" y1="594.5" x2="555.22" y2="598.7" stroke="#4a4a4a" stroke-width="1"/>
<text x="555.22" y="612.8" font-size="12" text-anchor="middle">400</text>
<line x1="596.4" y1="594.5" x2="596.4" y2="598.7" stroke="#4a4a4a" stroke-width="1"/>
<text x="596.4" y="612.8" font-size="12" text-anchor="middle">500</text>
<text x="336.7" y="509.75" font-size="12" text-anchor="middle" transform="rotate(-90 336.7 509.75)">Inhibition of cell proliferation</text>
<text x="351.5" y="509.75" font-size="12" text-anchor="middle" transform="rotate(-90 351.5 509.75)">(% change from C1)</text>
<text x="493.45" y="629.3" font-size="12" text-anchor="middle">Bevacizumab concentration (&#956;g ml<tspan font-size="8.5" dy="-5">&#8722;1</tspan><tspan dy="5">)</tspan></text>
<rect x="393.9" y="425.1" width="54.6" height="30.8" fill="#fff" stroke="#444" stroke-width="1"/>
<text x="421.2" y="437.8" font-size="8.6" text-anchor="middle"><tspan font-style="italic">R</tspan> = 0.4273</text>
<text x="421.2" y="449.8" font-size="8.6" text-anchor="middle"><tspan font-style="italic">P</tspan> = 0.1928</text>
<line x1="418.2" y1="478.3" x2="418.2" y2="528.2" stroke="#555" stroke-width="1"/>
<line x1="415.2" y1="478.3" x2="421.2" y2="478.3" stroke="#555" stroke-width="1.1"/>
<line x1="415.2" y1="528.2" x2="421.2" y2="528.2" stroke="#555" stroke-width="1.1"/>
<circle cx="418.2" cy="503.6" r="2.7" fill="none" stroke="#1a1a1a" stroke-width="1"/>
<line x1="422.6" y1="488.9" x2="422.6" y2="517.7" stroke="#555" stroke-width="1"/>
<line x1="419.6" y1="488.9" x2="425.6" y2="488.9" stroke="#555" stroke-width="1.1"/>
<line x1="419.6" y1="517.7" x2="425.6" y2="517.7" stroke="#555" stroke-width="1.1"/>
<circle cx="422.6" cy="503.6" r="2.7" fill="none" stroke="#1a1a1a" stroke-width="1"/>
<line x1="427.4" y1="480.2" x2="427.4" y2="491.4" stroke="#555" stroke-width="1"/>
<line x1="425.4" y1="480.2" x2="429.4" y2="480.2" stroke="#555" stroke-width="1.1"/>
<line x1="425.4" y1="491.4" x2="429.4" y2="491.4" stroke="#555" stroke-width="1.1"/>
<circle cx="427.4" cy="485.4" r="2.7" fill="none" stroke="#1a1a1a" stroke-width="1"/>
<line x1="430.7" y1="466.5" x2="430.7" y2="504.5" stroke="#1a1a1a" stroke-width="1.5"/>
<line x1="427.7" y1="466.5" x2="433.7" y2="466.5" stroke="#1a1a1a" stroke-width="1.6"/>
<line x1="427.7" y1="504.5" x2="433.7" y2="504.5" stroke="#1a1a1a" stroke-width="1.6"/>
<circle cx="430.7" cy="485.4" r="2.7" fill="#6a6a6a" stroke="#111" stroke-width="1.3"/>
<line x1="447.1" y1="461.7" x2="447.1" y2="506.4" stroke="#555" stroke-width="1"/>
<line x1="444.1" y1="461.7" x2="450.1" y2="461.7" stroke="#555" stroke-width="1.1"/>
<line x1="444.1" y1="506.4" x2="450.1" y2="506.4" stroke="#555" stroke-width="1.1"/>
<circle cx="447.1" cy="484.1" r="2.7" fill="none" stroke="#1a1a1a" stroke-width="1"/>
<line x1="463.6" y1="452.4" x2="463.6" y2="490.4" stroke="#555" stroke-width="1"/>
<line x1="460.6" y1="452.4" x2="466.6" y2="452.4" stroke="#555" stroke-width="1.1"/>
<line x1="460.6" y1="490.4" x2="466.6" y2="490.4" stroke="#555" stroke-width="1.1"/>
<circle cx="463.6" cy="471.5" r="2.7" fill="none" stroke="#1a1a1a" stroke-width="1"/>
<line x1="433.4" y1="527.4" x2="433.4" y2="580.4" stroke="#333" stroke-width="1.2"/>
<line x1="430.4" y1="527.4" x2="436.4" y2="527.4" stroke="#333" stroke-width="1.3"/>
<line x1="430.4" y1="580.4" x2="436.4" y2="580.4" stroke="#333" stroke-width="1.3"/>
<line x1="430.4" y1="525.2" x2="436.4" y2="525.2" stroke="#333" stroke-width="1.3"/>
<line x1="430.4" y1="582.4" x2="436.4" y2="582.4" stroke="#333" stroke-width="1.3"/>
<circle cx="433.4" cy="553.9" r="2.7" fill="#777" stroke="#111" stroke-width="1.5"/>
<line x1="439.4" y1="530.5" x2="439.4" y2="568.6" stroke="#555" stroke-width="1"/>
<line x1="436.4" y1="530.5" x2="442.4" y2="530.5" stroke="#555" stroke-width="1.1"/>
<line x1="436.4" y1="568.6" x2="442.4" y2="568.6" stroke="#555" stroke-width="1.1"/>
<circle cx="439.4" cy="549.5" r="2.7" fill="none" stroke="#1a1a1a" stroke-width="1"/>
<line x1="561" y1="449.5" x2="569.6" y2="449.5" stroke="#555" stroke-width="1"/>
<line x1="561" y1="446.5" x2="561" y2="452.5" stroke="#555" stroke-width="1.1"/>
<line x1="569.6" y1="446.5" x2="569.6" y2="452.5" stroke="#555" stroke-width="1.1"/>
<circle cx="565.1" cy="449.5" r="2.7" fill="none" stroke="#1a1a1a" stroke-width="1"/>
</g>
<g>
<text x="0.3" y="666.3" font-size="17" text-anchor="start" font-weight="bold">D</text>
<line x1="63.5" y1="676.4" x2="63.5" y2="851.7" stroke="#4a4a4a" stroke-width="1"/>
<line x1="59" y1="847.5" x2="254.9" y2="847.5" stroke="#4a4a4a" stroke-width="1"/>
<line x1="59" y1="847.5" x2="63.5" y2="847.5" stroke="#4a4a4a" stroke-width="1"/>
<text x="54.3" y="851.8" font-size="12" text-anchor="end">0</text>
<line x1="59" y1="819.07" x2="63.5" y2="819.07" stroke="#4a4a4a" stroke-width="1"/>
<text x="54.3" y="823.37" font-size="12" text-anchor="end">20</text>
<line x1="59" y1="790.63" x2="63.5" y2="790.63" stroke="#4a4a4a" stroke-width="1"/>
<text x="54.3" y="794.93" font-size="12" text-anchor="end">40</text>
<line x1="59" y1="762.2" x2="63.5" y2="762.2" stroke="#4a4a4a" stroke-width="1"/>
<text x="54.3" y="766.5" font-size="12" text-anchor="end">60</text>
<line x1="59" y1="733.77" x2="63.5" y2="733.77" stroke="#4a4a4a" stroke-width="1"/>
<text x="54.3" y="738.07" font-size="12" text-anchor="end">80</text>
<line x1="59" y1="705.33" x2="63.5" y2="705.33" stroke="#4a4a4a" stroke-width="1"/>
<text x="54.3" y="709.63" font-size="12" text-anchor="end">100</text>
<line x1="59" y1="676.9" x2="63.5" y2="676.9" stroke="#4a4a4a" stroke-width="1"/>
<text x="54.3" y="681.2" font-size="12" text-anchor="end">120</text>
<line x1="63.6" y1="847.5" x2="63.6" y2="851.7" stroke="#4a4a4a" stroke-width="1"/>
<text x="63.6" y="864" font-size="12" text-anchor="middle">0.0</text>
<line x1="101.84" y1="847.5" x2="101.84" y2="851.7" stroke="#4a4a4a" stroke-width="1"/>
<text x="101.84" y="864" font-size="12" text-anchor="middle">0.1</text>
<line x1="140.08" y1="847.5" x2="140.08" y2="851.7" stroke="#4a4a4a" stroke-width="1"/>
<text x="140.08" y="864" font-size="12" text-anchor="middle">0.2</text>
<line x1="178.32" y1="847.5" x2="178.32" y2="851.7" stroke="#4a4a4a" stroke-width="1"/>
<text x="178.32" y="864" font-size="12" text-anchor="middle">0.3</text>
<line x1="216.56" y1="847.5" x2="216.56" y2="851.7" stroke="#4a4a4a" stroke-width="1"/>
<text x="216.56" y="864" font-size="12" text-anchor="middle">0.4</text>
<line x1="254.8" y1="847.5" x2="254.8" y2="851.7" stroke="#4a4a4a" stroke-width="1"/>
<text x="254.8" y="864" font-size="12" text-anchor="middle">0.5</text>
<text x="10.4" y="762.2" font-size="12" text-anchor="middle" transform="rotate(-90 10.4 762.2)">Inhibition of cell proliferation</text>
<text x="25" y="762.2" font-size="12" text-anchor="middle" transform="rotate(-90 25 762.2)">(% change from C1)</text>
<text x="159.2" y="881.5" font-size="12" text-anchor="middle">Platelet corrected on-treatment serum</text>
<text x="159.2" y="895" font-size="12" text-anchor="middle">VEGF (pg ml<tspan font-size="8.5" dy="-5">&#8722;1</tspan><tspan dy="5"> 1*10</tspan><tspan font-size="8.5" dy="-5">6</tspan><tspan dy="5"> platelets)</tspan></text>
<rect x="198.8" y="678.4" width="54.8" height="31" fill="#fff" stroke="#444" stroke-width="1"/>
<text x="226.2" y="690.3" font-size="8.6" text-anchor="middle"><tspan font-style="italic">R</tspan> = &#8722;0.7143</text>
<text x="226.2" y="702.6" font-size="8.6" text-anchor="middle"><tspan font-style="italic">P</tspan> = 0.0576</text>
<line x1="78.7" y1="720.3" x2="78.7" y2="730" stroke="#555" stroke-width="1"/>
<line x1="75.7" y1="720.3" x2="81.7" y2="720.3" stroke="#555" stroke-width="1.1"/>
<line x1="75.7" y1="730" x2="81.7" y2="730" stroke="#555" stroke-width="1.1"/>
<circle cx="78.7" cy="725.1" r="3.2" fill="#111"/>
<line x1="94.2" y1="762.8" x2="94.2" y2="779.8" stroke="#555" stroke-width="1"/>
<line x1="91.2" y1="762.8" x2="97.2" y2="762.8" stroke="#555" stroke-width="1.1"/>
<line x1="91.2" y1="779.8" x2="97.2" y2="779.8" stroke="#555" stroke-width="1.1"/>
<circle cx="94.2" cy="771.5" r="3.2" fill="#111"/>
<rect x="122" y="732.7" width="5.8" height="5.8" fill="#111"/>
<line x1="155.6" y1="750.5" x2="155.6" y2="765.8" stroke="#555" stroke-width="1"/>
<line x1="152.6" y1="750.5" x2="158.6" y2="750.5" stroke="#555" stroke-width="1.1"/>
<line x1="152.6" y1="765.8" x2="158.6" y2="765.8" stroke="#555" stroke-width="1.1"/>
<line x1="152.9" y1="758" x2="158.5" y2="758" stroke="#555" stroke-width="1"/>
<line x1="152.9" y1="755" x2="152.9" y2="761" stroke="#555" stroke-width="1.1"/>
<line x1="158.5" y1="755" x2="158.5" y2="761" stroke="#555" stroke-width="1.1"/>
<circle cx="155.6" cy="758" r="3.2" fill="#111"/>
<line x1="159.3" y1="783.2" x2="159.3" y2="806.8" stroke="#555" stroke-width="1"/>
<line x1="156.3" y1="783.2" x2="162.3" y2="783.2" stroke="#555" stroke-width="1.1"/>
<line x1="156.3" y1="806.8" x2="162.3" y2="806.8" stroke="#555" stroke-width="1.1"/>
<line x1="155.8" y1="795.1" x2="163.8" y2="795.1" stroke="#555" stroke-width="1"/>
<line x1="155.8" y1="792.1" x2="155.8" y2="798.1" stroke="#555" stroke-width="1.1"/>
<line x1="163.8" y1="792.1" x2="163.8" y2="798.1" stroke="#555" stroke-width="1.1"/>
<circle cx="159.3" cy="795.1" r="3.2" fill="#111"/>
<line x1="205.2" y1="744.5" x2="205.2" y2="755.3" stroke="#555" stroke-width="1"/>
<line x1="202.2" y1="744.5" x2="208.2" y2="744.5" stroke="#555" stroke-width="1.1"/>
<line x1="202.2" y1="755.3" x2="208.2" y2="755.3" stroke="#555" stroke-width="1.1"/>
<line x1="194.4" y1="750" x2="216.2" y2="750" stroke="#555" stroke-width="1"/>
<line x1="194.4" y1="747" x2="194.4" y2="753" stroke="#555" stroke-width="1.1"/>
<line x1="216.2" y1="747" x2="216.2" y2="753" stroke="#555" stroke-width="1.1"/>
<circle cx="205.2" cy="750" r="3.2" fill="#111"/>
<line x1="213" y1="760.9" x2="213" y2="805.7" stroke="#555" stroke-width="1"/>
<line x1="210" y1="760.9" x2="216" y2="760.9" stroke="#555" stroke-width="1.1"/>
<line x1="210" y1="805.7" x2="216" y2="805.7" stroke="#555" stroke-width="1.1"/>
<circle cx="213" cy="783.5" r="3.2" fill="#111"/>
<line x1="220.8" y1="803.6" x2="220.8" y2="828.1" stroke="#555" stroke-width="1"/>
<line x1="217.8" y1="803.6" x2="223.8" y2="803.6" stroke="#555" stroke-width="1.1"/>
<line x1="217.8" y1="828.1" x2="223.8" y2="828.1" stroke="#555" stroke-width="1.1"/>
<circle cx="220.8" cy="815.7" r="3.2" fill="#111"/>
</g>
<g>
<text x="334" y="666.4" font-size="17" text-anchor="start" font-weight="bold">E</text>
<line x1="390.5" y1="677.1" x2="390.5" y2="851.7" stroke="#4a4a4a" stroke-width="1"/>
<line x1="386" y1="847.5" x2="581" y2="847.5" stroke="#4a4a4a" stroke-width="1"/>
<line x1="386" y1="847.5" x2="390.5" y2="847.5" stroke="#4a4a4a" stroke-width="1"/>
<text x="381.3" y="851.8" font-size="12" text-anchor="end">0</text>
<line x1="386" y1="819.18" x2="390.5" y2="819.18" stroke="#4a4a4a" stroke-width="1"/>
<text x="381.3" y="823.48" font-size="12" text-anchor="end">20</text>
<line x1="386" y1="790.87" x2="390.5" y2="790.87" stroke="#4a4a4a" stroke-width="1"/>
<text x="381.3" y="795.17" font-size="12" text-anchor="end">40</text>
<line x1="386" y1="762.55" x2="390.5" y2="762.55" stroke="#4a4a4a" stroke-width="1"/>
<text x="381.3" y="766.85" font-size="12" text-anchor="end">60</text>
<line x1="386" y1="734.23" x2="390.5" y2="734.23" stroke="#4a4a4a" stroke-width="1"/>
<text x="381.3" y="738.53" font-size="12" text-anchor="end">80</text>
<line x1="386" y1="705.92" x2="390.5" y2="705.92" stroke="#4a4a4a" stroke-width="1"/>
<text x="381.3" y="710.22" font-size="12" text-anchor="end">100</text>
<line x1="386" y1="677.6" x2="390.5" y2="677.6" stroke="#4a4a4a" stroke-width="1"/>
<text x="381.3" y="681.9" font-size="12" text-anchor="end">120</text>
<line x1="390.5" y1="847.5" x2="390.5" y2="851.7" stroke="#4a4a4a" stroke-width="1"/>
<text x="390.5" y="864" font-size="12" text-anchor="middle">0.0</text>
<line x1="438.12" y1="847.5" x2="438.12" y2="851.7" stroke="#4a4a4a" stroke-width="1"/>
<text x="438.12" y="864" font-size="12" text-anchor="middle">0.5</text>
<line x1="485.75" y1="847.5" x2="485.75" y2="851.7" stroke="#4a4a4a" stroke-width="1"/>
<text x="485.75" y="864" font-size="12" text-anchor="middle">1.0</text>
<line x1="533.38" y1="847.5" x2="533.38" y2="851.7" stroke="#4a4a4a" stroke-width="1"/>
<text x="533.38" y="864" font-size="12" text-anchor="middle">1.5</text>
<line x1="581" y1="847.5" x2="581" y2="851.7" stroke="#4a4a4a" stroke-width="1"/>
<text x="581" y="864" font-size="12" text-anchor="middle">2.0</text>
<text x="336.7" y="762.55" font-size="12" text-anchor="middle" transform="rotate(-90 336.7 762.55)">Inhibition of cell proliferation</text>
<text x="351.5" y="762.55" font-size="12" text-anchor="middle" transform="rotate(-90 351.5 762.55)">(% change from C1)</text>
<text x="485.75" y="881.5" font-size="12" text-anchor="middle">Platelet corrected on-treatment serum</text>
<text x="485.75" y="895" font-size="12" text-anchor="middle">VEGF (pg ml<tspan font-size="8.5" dy="-5">&#8722;1</tspan><tspan dy="5"> 1*10</tspan><tspan font-size="8.5" dy="-5">6</tspan><tspan dy="5"> platelets)</tspan></text>
<rect x="525.2" y="679" width="54.1" height="31.1" fill="#fff" stroke="#444" stroke-width="1"/>
<text x="552.25" y="690.7" font-size="8.6" text-anchor="middle"><tspan font-style="italic">R</tspan> = &#8722;0.8000</text>
<text x="552.25" y="703" font-size="8.6" text-anchor="middle"><tspan font-style="italic">P</tspan> = 0.0047</text>
<line x1="394.9" y1="699.9" x2="394.9" y2="703.9" stroke="#555" stroke-width="1"/>
<line x1="393.7" y1="699.9" x2="396.1" y2="699.9" stroke="#555" stroke-width="1.1"/>
<line x1="393.7" y1="703.9" x2="396.1" y2="703.9" stroke="#555" stroke-width="1.1"/>
<circle cx="394.9" cy="701.9" r="2.7" fill="none" stroke="#1a1a1a" stroke-width="1"/>
<line x1="430" y1="704.8" x2="430" y2="744" stroke="#555" stroke-width="1"/>
<line x1="427" y1="704.8" x2="433" y2="704.8" stroke="#555" stroke-width="1.1"/>
<line x1="427" y1="744" x2="433" y2="744" stroke="#555" stroke-width="1.1"/>
<line x1="424.2" y1="723.8" x2="436.7" y2="723.8" stroke="#555" stroke-width="1"/>
<line x1="424.2" y1="720.8" x2="424.2" y2="726.8" stroke="#555" stroke-width="1.1"/>
<line x1="436.7" y1="720.8" x2="436.7" y2="726.8" stroke="#555" stroke-width="1.1"/>
<circle cx="430" cy="723.8" r="2.7" fill="none" stroke="#1a1a1a" stroke-width="1"/>
<line x1="420.1" y1="718.5" x2="420.1" y2="756.8" stroke="#555" stroke-width="1"/>
<line x1="417.1" y1="718.5" x2="423.1" y2="718.5" stroke="#555" stroke-width="1.1"/>
<line x1="417.1" y1="756.8" x2="423.1" y2="756.8" stroke="#555" stroke-width="1.1"/>
<circle cx="420.1" cy="737.4" r="2.7" fill="none" stroke="#1a1a1a" stroke-width="1"/>
<line x1="423.8" y1="718.8" x2="423.8" y2="757" stroke="#555" stroke-width="1"/>
<line x1="420.8" y1="718.8" x2="426.8" y2="718.8" stroke="#555" stroke-width="1.1"/>
<line x1="420.8" y1="757" x2="426.8" y2="757" stroke="#555" stroke-width="1.1"/>
<circle cx="423.8" cy="737.4" r="2.7" fill="none" stroke="#1a1a1a" stroke-width="1"/>
<line x1="433.5" y1="730.6" x2="433.5" y2="780.8" stroke="#555" stroke-width="1"/>
<line x1="430.5" y1="730.6" x2="436.5" y2="730.6" stroke="#555" stroke-width="1.1"/>
<line x1="430.5" y1="780.8" x2="436.5" y2="780.8" stroke="#555" stroke-width="1.1"/>
<line x1="431.5" y1="755.9" x2="435.5" y2="755.9" stroke="#555" stroke-width="1"/>
<line x1="431.5" y1="752.9" x2="431.5" y2="758.9" stroke="#555" stroke-width="1.1"/>
<line x1="435.5" y1="752.9" x2="435.5" y2="758.9" stroke="#555" stroke-width="1.1"/>
<circle cx="433.5" cy="755.9" r="2.7" fill="none" stroke="#1a1a1a" stroke-width="1"/>
<line x1="442.7" y1="732.7" x2="442.7" y2="743.2" stroke="#555" stroke-width="1"/>
<line x1="439.7" y1="732.7" x2="445.7" y2="732.7" stroke="#555" stroke-width="1.1"/>
<line x1="439.7" y1="743.2" x2="445.7" y2="743.2" stroke="#555" stroke-width="1.1"/>
<line x1="430.6" y1="738.2" x2="450" y2="738.2" stroke="#555" stroke-width="1"/>
<line x1="430.6" y1="735.2" x2="430.6" y2="741.2" stroke="#555" stroke-width="1.1"/>
<line x1="450" y1="735.2" x2="450" y2="741.2" stroke="#555" stroke-width="1.1"/>
<circle cx="442.7" cy="738.2" r="2.7" fill="none" stroke="#1a1a1a" stroke-width="1"/>
<line x1="452" y1="714" x2="452" y2="759.1" stroke="#555" stroke-width="1"/>
<line x1="449" y1="714" x2="455" y2="714" stroke="#555" stroke-width="1.1"/>
<line x1="449" y1="759.1" x2="455" y2="759.1" stroke="#555" stroke-width="1.1"/>
<circle cx="452" cy="736.7" r="2.7" fill="none" stroke="#1a1a1a" stroke-width="1"/>
<line x1="477.8" y1="741.5" x2="477.8" y2="770.4" stroke="#555" stroke-width="1"/>
<line x1="474.8" y1="741.5" x2="480.8" y2="741.5" stroke="#555" stroke-width="1.1"/>
<line x1="474.8" y1="770.4" x2="480.8" y2="770.4" stroke="#555" stroke-width="1.1"/>
<line x1="474.4" y1="756" x2="481.3" y2="756" stroke="#555" stroke-width="1"/>
<line x1="474.4" y1="753" x2="474.4" y2="759" stroke="#555" stroke-width="1.1"/>
<line x1="481.3" y1="753" x2="481.3" y2="759" stroke="#555" stroke-width="1.1"/>
<circle cx="477.8" cy="756" r="2.7" fill="none" stroke="#1a1a1a" stroke-width="1"/>
<line x1="471.3" y1="777.6" x2="471.3" y2="835.6" stroke="#555" stroke-width="1"/>
<line x1="468.3" y1="777.6" x2="474.3" y2="777.6" stroke="#555" stroke-width="1.1"/>
<line x1="468.3" y1="835.6" x2="474.3" y2="835.6" stroke="#555" stroke-width="1.1"/>
<line x1="466.4" y1="806.6" x2="476.1" y2="806.6" stroke="#555" stroke-width="1"/>
<line x1="466.4" y1="803.6" x2="466.4" y2="809.6" stroke="#555" stroke-width="1.1"/>
<line x1="476.1" y1="803.6" x2="476.1" y2="809.6" stroke="#555" stroke-width="1.1"/>
<circle cx="471.3" cy="806.6" r="2.7" fill="none" stroke="#1a1a1a" stroke-width="1"/>
<line x1="481.6" y1="783.4" x2="481.6" y2="821.6" stroke="#555" stroke-width="1"/>
<line x1="478.6" y1="783.4" x2="484.6" y2="783.4" stroke="#555" stroke-width="1.1"/>
<line x1="478.6" y1="821.6" x2="484.6" y2="821.6" stroke="#555" stroke-width="1.1"/>
<line x1="478.5" y1="802.5" x2="485.7" y2="802.5" stroke="#555" stroke-width="1"/>
<line x1="478.5" y1="799.5" x2="478.5" y2="805.5" stroke="#555" stroke-width="1.1"/>
<line x1="485.7" y1="799.5" x2="485.7" y2="805.5" stroke="#555" stroke-width="1.1"/>
<circle cx="481.6" cy="802.5" r="2.7" fill="none" stroke="#1a1a1a" stroke-width="1"/>
<line x1="552.4" y1="779.8" x2="552.4" y2="833.7" stroke="#555" stroke-width="1"/>
<line x1="549.4" y1="779.8" x2="555.4" y2="779.8" stroke="#555" stroke-width="1.1"/>
<line x1="549.4" y1="833.7" x2="555.4" y2="833.7" stroke="#555" stroke-width="1.1"/>
<line x1="538.9" y1="806.6" x2="565.9" y2="806.6" stroke="#555" stroke-width="1"/>
<line x1="538.9" y1="803.6" x2="538.9" y2="809.6" stroke="#555" stroke-width="1.1"/>
<line x1="565.9" y1="803.6" x2="565.9" y2="809.6" stroke="#555" stroke-width="1.1"/>
<circle cx="552.4" cy="806.6" r="2.7" fill="none" stroke="#1a1a1a" stroke-width="1"/>
</g>
</svg>
</body></html>
